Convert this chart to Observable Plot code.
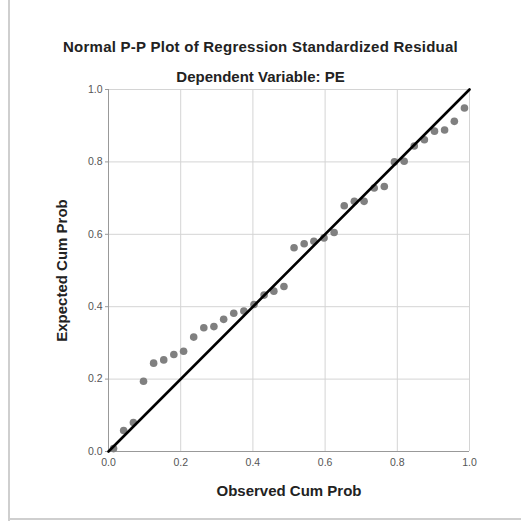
<!DOCTYPE html>
<html>
<head>
<meta charset="utf-8">
<script src="https://cdn.jsdelivr.net/npm/d3@7"></script>
<script src="https://cdn.jsdelivr.net/npm/@observablehq/plot@0.6"></script>
<style>
  html, body { margin: 0; padding: 0; background: #fff; }
  #wrap { position: relative; width: 521px; height: 521px; overflow: hidden; font-family: "Liberation Sans", Arial, sans-serif; }
  .t { position: absolute; left: 0; width: 521px; text-align: center; font-weight: bold; font-size: 15px; line-height: 18px; color: #222; white-space: nowrap; }
  #chart { position: absolute; left: 0; top: 0; }
  #bl { position: absolute; left: 8px; top: 0; width: 2px; height: 521px; background: #cfcfcf; }
  #bb { position: absolute; left: 8px; top: 518px; width: 513px; height: 2px; background: #cfcfcf; }
</style>
</head>
<body>
<div id="wrap">
  <div id="chart"></div>
  <div class="t" id="title" style="top:38px; left:0px; letter-spacing:0.25px;"></div>
  <div class="t" id="subtitle" style="top:68px; left:0px;"></div>
  <div id="bl"></div>
  <div id="bb"></div>
</div>
<script>
const titleText = "Normal P-P Plot of Regression Standardized Residual";
const subtitleText = "Dependent Variable: PE";
const xLabel = "Observed Cum Prob";
const yLabel = "Expected Cum Prob";
const tickValues = [0, 0.2, 0.4, 0.6, 0.8, 1.0];

const observed = [0.014,0.042,0.069,0.097,0.125,0.153,0.181,0.208,0.236,0.264,0.292,0.319,0.347,0.375,0.403,0.431,0.458,0.486,0.514,0.542,0.569,0.597,0.625,0.653,0.681,0.708,0.736,0.764,0.792,0.819,0.847,0.875,0.903,0.931,0.958,0.986];
const expected = [0.008,0.058,0.080,0.194,0.244,0.253,0.268,0.277,0.316,0.342,0.345,0.365,0.382,0.388,0.406,0.432,0.443,0.456,0.563,0.574,0.581,0.590,0.605,0.679,0.691,0.691,0.728,0.732,0.800,0.802,0.844,0.861,0.885,0.888,0.912,0.949];
const refX = [0, 1];
const refY = [0, 1];

document.getElementById("title").textContent = titleText;
document.getElementById("subtitle").textContent = subtitleText;

const pts = observed.map((x, i) => ({x, y: expected[i]}));
const ref = refX.map((x, i) => ({x, y: refY[i]}));
const fmt = d3.format(".1f");

const chart = Plot.plot({
  width: 521,
  height: 521,
  marginLeft: 108,
  marginRight: 52,
  marginTop: 89,
  marginBottom: 70,
  style: {fontFamily: "'Liberation Sans', Arial, sans-serif", fontSize: "10.5px", background: "transparent"},
  x: {domain: [0, 1], ticks: tickValues, tickFormat: fmt},
  y: {domain: [0, 1], ticks: tickValues, tickFormat: fmt},
  marks: [
    Plot.gridX(tickValues, {stroke: "#d4d4d4", strokeOpacity: 1, strokeWidth: 1}),
    Plot.gridY(tickValues, {stroke: "#d4d4d4", strokeOpacity: 1, strokeWidth: 1}),
    Plot.axisX({ticks: tickValues, tickFormat: fmt, tickSize: 0, tickPadding: 7, fontSize: 10.5, color: "#555", label: null}),
    Plot.axisY({ticks: tickValues, tickFormat: fmt, tickSize: 3, tickPadding: 3, fontSize: 10.5, color: "#555", stroke: "#999", label: null}),
    Plot.ruleX([0], {stroke: "#999", strokeWidth: 1}),
    Plot.ruleY([0], {stroke: "#999", strokeWidth: 1}),
    Plot.dot(pts, {x: "x", y: "y", r: 3.8, fill: "#808080", stroke: "none"}),
    Plot.line(ref, {x: "x", y: "y", stroke: "#000", strokeWidth: 2.6}),
    Plot.text([xLabel], {frameAnchor: "bottom", dy: 40, textAnchor: "middle", lineAnchor: "middle", text: d => d, fontSize: 15, fontWeight: "bold", fill: "#222"}),
    Plot.text([yLabel], {frameAnchor: "left", dx: -46, rotate: -90, textAnchor: "middle", lineAnchor: "middle", text: d => d, fontSize: 15, fontWeight: "bold", fill: "#222"})
  ]
});
document.getElementById("chart").appendChild(chart);
</script>
</body>
</html>
